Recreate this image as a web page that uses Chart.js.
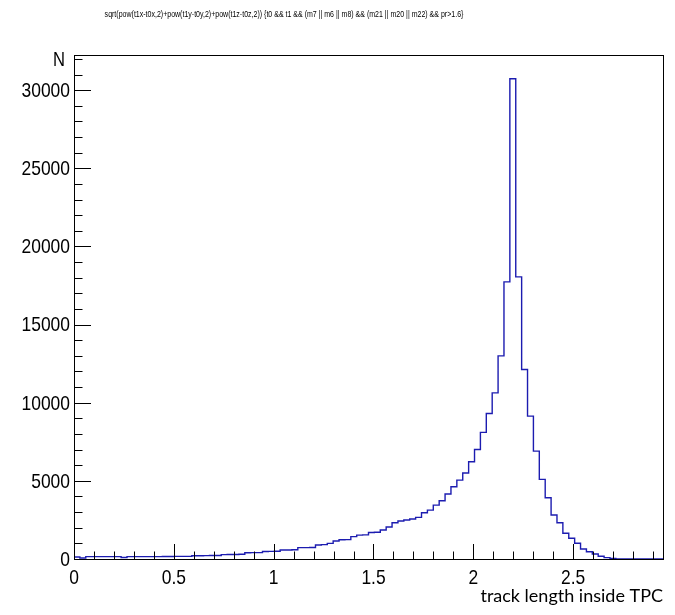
<!DOCTYPE html>
<html>
<head>
<meta charset="utf-8">
<script src="https://cdn.jsdelivr.net/npm/chart.js@4.4.1/dist/chart.umd.min.js"></script>
<style>
  html, body { margin: 0; padding: 0; background: #fff; }
  canvas { display: block; }
</style>
</head>
<body>
<canvas id="trackLength" width="675" height="615"></canvas>
<script>
// histogram binning: 100 bins over [0, 2.95]
const xMin = 0;
const xMax = 2.95;
const binWidth = 0.0295;
const yMax = 32250;

const binCounts = [
  130, 60, 150, 150, 150, 150, 150, 150, 100, 150,
  150, 150, 150, 155, 155, 160, 160, 165, 165, 170,
  210, 210, 215, 220, 225, 280, 285, 290, 300, 400,
  405, 410, 480, 490, 500, 575, 580, 590, 725, 730,
  740, 900, 920, 1000, 1150, 1230, 1240, 1430, 1530, 1545,
  1700, 1710, 1855, 2045, 2320, 2430, 2495, 2560, 2665, 2960,
  3130, 3450, 3730, 4155, 4625, 5050, 5500, 6220, 7010, 8100,
  9315, 10630, 13000, 17730, 30735, 18050, 12130, 9140, 6905, 5095,
  3920, 2815, 2320, 1645, 1325, 1005, 640, 465, 320, 175,
  85, 30, 10, 0, 0, 0, 0, 0, 0, 0
];

const xTickLabels = [0, 0.5, 1, 1.5, 2, 2.5];
const yTickLabels = [0, 5000, 10000, 15000, 20000, 25000, 30000];

const histTitle = "sqrt(pow(t1x-t0x,2)+pow(t1y-t0y,2)+pow(t1z-t0z,2)) {t0 && t1 && (m7 || m6 || m8) && (m21 || m20 || m22) && pr>1.6}";
const xTitle = "track length inside TPC";
const yTitle = "N";

const labelFont = "'Liberation Sans', Arial, sans-serif";
const squeeze = 0.83; // labels are drawn horizontally condensed

// left bin edges, plus the closing edge so the last step is drawn
function histPoints() {
  const pts = binCounts.map((c, i) => ({ x: xMin + i * binWidth, y: c }));
  pts.push({ x: xMin + binCounts.length * binWidth, y: binCounts[binCounts.length - 1] });
  return pts;
}

function narrowText(ctx, text, x, y, sx) {
  ctx.save();
  ctx.translate(x, y);
  ctx.scale(sx, 1);
  ctx.fillText(text, 0, 0);
  ctx.restore();
}

// ROOT-like frame: box, inward major/minor ticks, condensed labels, title and "N"
const frameTicks = {
  id: "frameTicks",
  afterDraw(chart) {
    const ctx = chart.ctx;
    const a = chart.chartArea;
    const xs = chart.scales.x;
    const ys = chart.scales.y;
    ctx.save();
    ctx.strokeStyle = "#000";
    ctx.lineWidth = 1;
    ctx.strokeRect(Math.round(a.left) + 0.5, Math.round(a.top) + 0.5,
      Math.round(a.right - a.left), Math.round(a.bottom - a.top));

    ctx.beginPath();
    for (let k = 0; k * 0.1 <= xMax + 1e-9; k++) {
      const px = Math.round(xs.getPixelForValue(k * 0.1)) + 0.5;
      const len = k % 5 === 0 ? 15 : 7.5;
      ctx.moveTo(px, a.bottom);
      ctx.lineTo(px, a.bottom - len);
    }
    for (let k = 0; k * 1000 <= yMax; k++) {
      const py = Math.round(ys.getPixelForValue(k * 1000)) + 0.5;
      const len = k % 5 === 0 ? 17 : 8.5;
      ctx.moveTo(a.left, py);
      ctx.lineTo(a.left + len, py);
    }
    ctx.stroke();

    ctx.fillStyle = "#000";
    ctx.font = "21px " + labelFont;

    ctx.textAlign = "center";
    ctx.textBaseline = "alphabetic";
    for (const v of xTickLabels) {
      narrowText(ctx, String(v), xs.getPixelForValue(v), a.bottom + 25, squeeze);
    }

    ctx.textAlign = "right";
    ctx.textBaseline = "middle";
    for (const v of yTickLabels) {
      narrowText(ctx, String(v), a.left - 4, ys.getPixelForValue(v) + 1, squeeze);
    }

    ctx.font = "20px " + labelFont;
    ctx.textBaseline = "alphabetic";
    narrowText(ctx, yTitle, 65, 66, squeeze);

    ctx.font = "9px " + labelFont;
    ctx.textAlign = "center";
    narrowText(ctx, histTitle, 284, 17, 0.78);
    ctx.restore();
  }
};

new Chart("trackLength", {
  type: "line",
  data: {
    datasets: [{
      data: histPoints(),
      stepped: "before",
      borderColor: "#1c1cb0",
      borderWidth: 1.4,
      pointRadius: 0,
      fill: false,
    }],
  },
  options: {
    responsive: false,
    animation: false,
    devicePixelRatio: 1,
    layout: { padding: { top: 55, right: 12, left: 0, bottom: 0 } },
    plugins: {
      legend: { display: false },
      tooltip: { enabled: false },
    },
    scales: {
      x: {
        type: "linear",
        min: xMin,
        max: xMax,
        afterFit(scale) { scale.height = 56; },
        afterBuildTicks(scale) { scale.ticks = xTickLabels.map(v => ({ value: v })); },
        grid: { display: false, drawTicks: false },
        border: { display: false },
        ticks: { display: false },
        title: {
          display: true,
          text: xTitle,
          align: "end",
          color: "#000",
          padding: { top: 0, bottom: 8 },
          font: { size: 18, family: "Lato, 'Open Sans', sans-serif" },
        },
      },
      y: {
        min: 0,
        max: yMax,
        afterFit(scale) { scale.width = 74; },
        afterBuildTicks(scale) { scale.ticks = yTickLabels.map(v => ({ value: v })); },
        grid: { display: false, drawTicks: false },
        border: { display: false },
        ticks: { display: false },
      },
    },
  },
  plugins: [frameTicks],
});
</script>
</body>
</html>
